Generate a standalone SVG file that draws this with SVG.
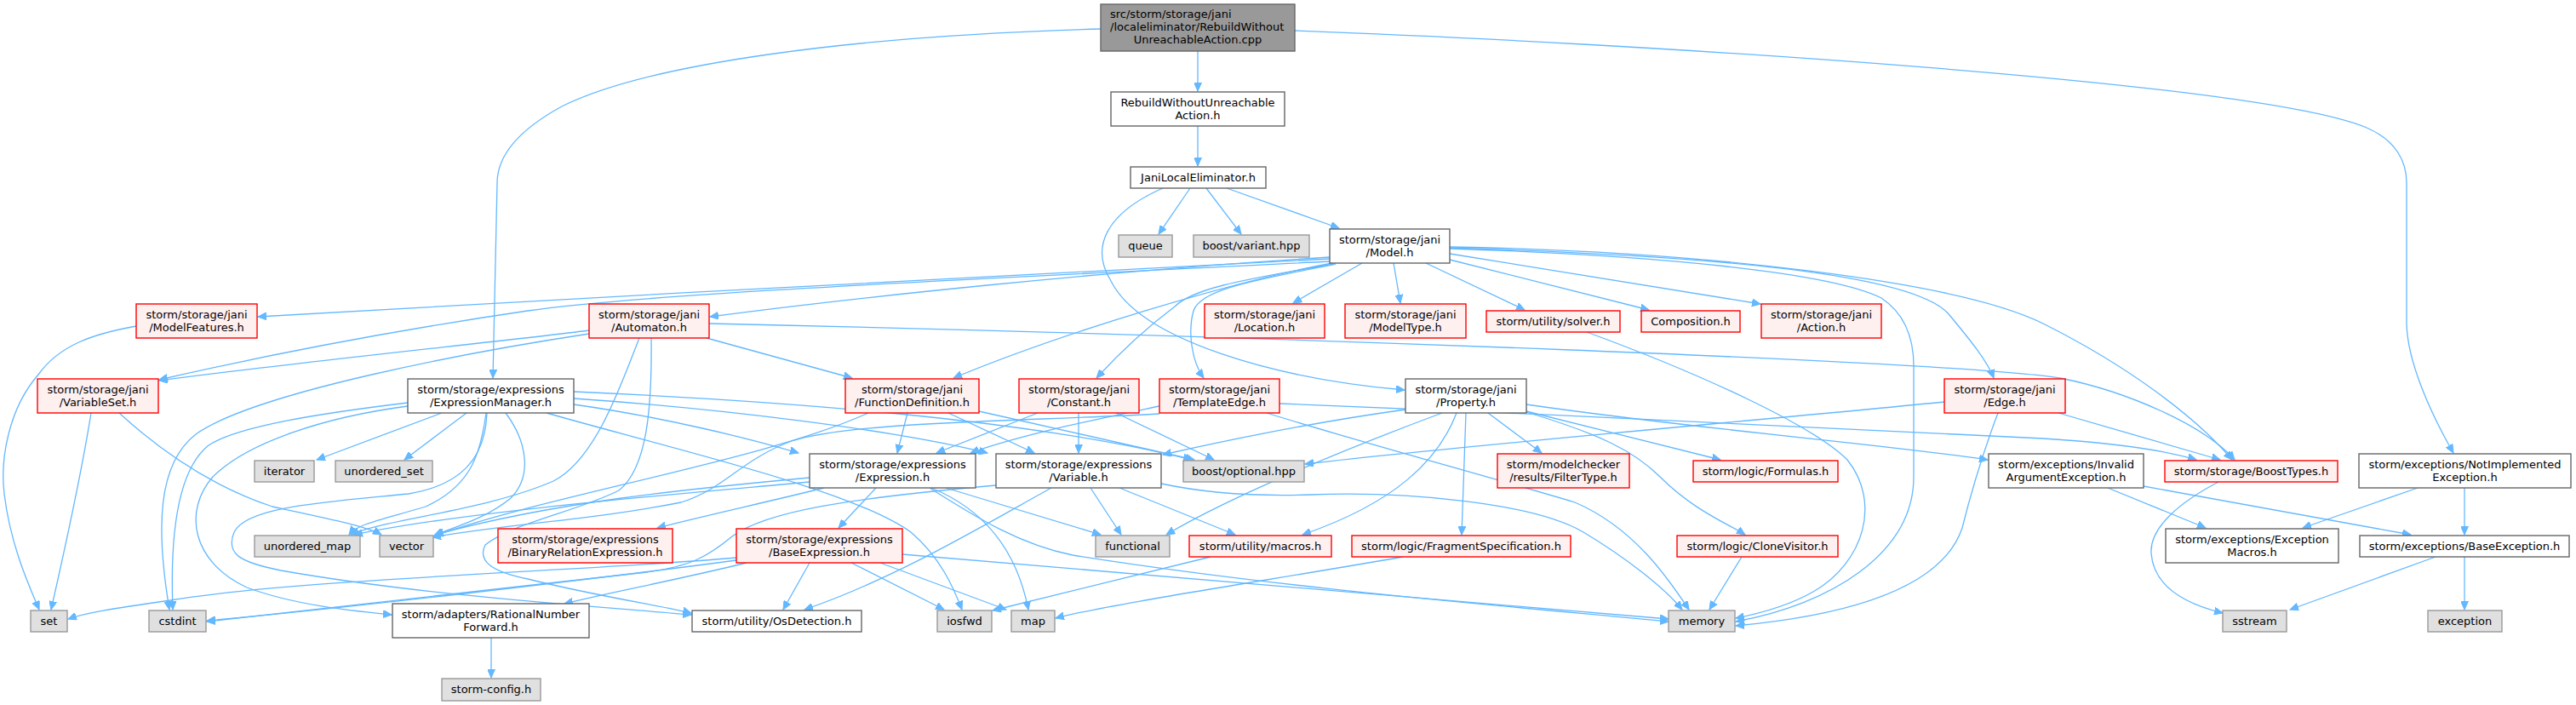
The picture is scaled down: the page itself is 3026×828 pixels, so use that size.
<svg xmlns="http://www.w3.org/2000/svg" width="3026" height="828" viewBox="0 0 3026 828">
<style>
.e{fill:none;stroke:#63b8ff;stroke-width:1.3;marker-end:url(#a)}
.w{fill:#ffffff;stroke:#666666;stroke-width:1.4}
.r{fill:#fff0f0;stroke:#ff0000;stroke-width:1.4}
.g{fill:#e0e0e0;stroke:#999999;stroke-width:1.4}
.t{fill:#999999;stroke:#666666;stroke-width:1.4}
text{font-family:"DejaVu Sans",sans-serif;font-size:13px;text-anchor:middle;fill:#000}
</style>
<defs>
<marker id="a" markerUnits="userSpaceOnUse" markerWidth="11" markerHeight="9" refX="10" refY="4.5" orient="auto">
<path d="M0,0 L10,4.5 L0,9 z" fill="#63b8ff" stroke="#63b8ff" stroke-width="1"/>
</marker>
</defs>
<rect width="3026" height="828" fill="#ffffff"/>
<g id="edges">
<path class="e" d="M1407,60 L1407,107"/>
<path class="e" d="M1293,34 C1000,42 760,75 660,125 C605,155 584,185 584,215 L579,444"/>
<path class="e" d="M1521,36 C1900,50 2650,95 2780,150 C2815,165 2827,190 2827,215 L2827,380 C2828,425 2855,485 2882,532"/>
<path class="e" d="M1407,148 L1407,195"/>
<path class="e" d="M1398,221 L1361,275"/>
<path class="e" d="M1417,221 L1458,275"/>
<path class="e" d="M1441,221 L1573,268"/>
<path class="e" d="M1366,221 C1300,250 1280,290 1305,330 C1340,400 1500,445 1650,458"/>
<path class="e" d="M1562,304 C1300,318 700,348 303,372"/>
<path class="e" d="M1562,307 C1100,330 760,345 620,365 C450,390 300,420 187,446"/>
<path class="e" d="M1562,302 C1300,318 1000,350 834,372"/>
<path class="e" d="M1565,309 C1450,330 1250,390 1120,444"/>
<path class="e" d="M1567,310 C1450,330 1400,340 1380,360 C1340,390 1310,420 1288,444"/>
<path class="e" d="M1569,310 C1470,330 1410,340 1402,365 C1395,390 1400,425 1414,444"/>
<path class="e" d="M1600,309 L1519,356"/>
<path class="e" d="M1637,309 L1645,356"/>
<path class="e" d="M1675,309 L1791,364"/>
<path class="e" d="M1703,305 L1937,364"/>
<path class="e" d="M1703,298 L2068,357"/>
<path class="e" d="M1703,291 C2000,300 2250,320 2290,370 C2315,400 2335,425 2342,444"/>
<path class="e" d="M1703,290 C2000,295 2300,330 2400,380 C2500,430 2580,490 2622,540"/>
<path class="e" d="M1703,292 C1950,300 2150,320 2210,350 C2240,370 2248,400 2248,430 L2248,560 C2248,650 2150,710 2039,730"/>
<path class="e" d="M833,380 C1500,395 2300,425 2420,444 C2500,460 2590,500 2625,540"/>
<path class="e" d="M692,388 C600,400 350,425 187,447"/>
<path class="e" d="M692,392 C560,412 300,460 230,510 C185,545 183,620 199,716"/>
<path class="e" d="M751,397 C730,450 700,540 650,565 C570,600 450,610 412,628"/>
<path class="e" d="M765,397 C766,480 760,550 727,576 C680,600 600,615 570,640 C560,660 580,672 620,680 C700,700 780,712 812,720"/>
<path class="e" d="M830,397 L1001,444"/>
<path class="e" d="M519,485 L372,540"/>
<path class="e" d="M548,485 L475,540"/>
<path class="e" d="M571,485 C565,530 555,570 500,595 C450,610 420,615 410,628"/>
<path class="e" d="M594,485 C620,520 625,560 600,585 C570,610 530,620 510,629"/>
<path class="e" d="M479,473 C380,485 280,500 245,523 C205,555 200,640 203,716"/>
<path class="e" d="M479,477 C380,490 290,520 250,560 C215,600 225,660 290,690 C350,712 420,718 460,722"/>
<path class="e" d="M572,485 C570,540 540,570 480,580 C380,590 290,595 275,625 C265,650 280,660 330,670 C500,700 700,712 812,722"/>
<path class="e" d="M674,475 C780,490 880,515 938,532"/>
<path class="e" d="M674,468 C850,480 1050,505 1160,532"/>
<path class="e" d="M674,460 C900,470 1200,490 1400,540"/>
<path class="e" d="M642,485 C800,530 1000,575 1070,625 C1105,655 1120,690 1130,716"/>
<path class="e" d="M107,485 C95,560 75,650 60,716"/>
<path class="e" d="M140,485 C200,540 260,575 320,595 C390,610 430,618 448,628"/>
<path class="e" d="M160,383 C110,392 70,405 45,440 C10,480 0,540 5,580 C12,640 35,690 46,716"/>
<path class="e" d="M1066,485 L1054,532"/>
<path class="e" d="M1114,485 L1215,532"/>
<path class="e" d="M1150,483 L1403,540"/>
<path class="e" d="M1020,485 C900,540 650,580 511,629"/>
<path class="e" d="M1219,485 L1100,532"/>
<path class="e" d="M1267,485 L1267,532"/>
<path class="e" d="M1311,485 L1426,540"/>
<path class="e" d="M1362,477 C1300,490 1200,510 1140,532"/>
<path class="e" d="M1362,486 C1200,495 1000,495 930,518 C870,540 850,575 800,590 C700,610 600,615 508,631"/>
<path class="e" d="M1503,474 C1800,485 2200,505 2400,515 C2480,520 2540,528 2580,540"/>
<path class="e" d="M1488,485 C1600,520 1750,560 1850,590 C1920,620 1960,680 1984,716"/>
<path class="e" d="M1651,481 C1550,495 1450,515 1366,534"/>
<path class="e" d="M1694,485 C1600,520 1450,580 1370,628"/>
<path class="e" d="M1711,485 C1690,540 1640,590 1530,628"/>
<path class="e" d="M1722,485 L1717,628"/>
<path class="e" d="M1748,485 L1811,532"/>
<path class="e" d="M1793,483 L2021,540"/>
<path class="e" d="M1793,484 C1880,510 1920,530 1950,560 C1990,600 2030,615 2050,628"/>
<path class="e" d="M1793,475 C2000,505 2200,520 2335,540"/>
<path class="e" d="M2284,472 C2000,500 1700,525 1533,545"/>
<path class="e" d="M2418,485 L2608,540"/>
<path class="e" d="M2347,485 C2330,530 2315,580 2305,620 C2285,680 2200,720 2039,735"/>
<path class="e" d="M2476,573 L2591,620"/>
<path class="e" d="M2518,571 L2832,628"/>
<path class="e" d="M2606,566 C2560,590 2525,620 2527,650 C2530,690 2570,710 2611,720"/>
<path class="e" d="M2840,573 L2705,620"/>
<path class="e" d="M2895,573 L2895,628"/>
<path class="e" d="M2861,654 L2690,716"/>
<path class="e" d="M2895,654 L2895,716"/>
<path class="e" d="M2046,654 L2008,716"/>
<path class="e" d="M1648,654 C1500,680 1300,710 1240,726"/>
<path class="e" d="M1864,390 C2000,440 2130,500 2170,540 C2210,590 2190,660 2130,695 C2100,712 2070,720 2039,726"/>
<path class="e" d="M1422,654 L1166,717"/>
<path class="e" d="M1235,573 C1150,620 1050,680 945,716"/>
<path class="e" d="M1281,573 L1317,628"/>
<path class="e" d="M1315,573 L1451,628"/>
<path class="e" d="M1364,568 C1420,580 1480,583 1540,581 C1650,577 1800,590 1860,625 C1910,655 1955,690 1976,716"/>
<path class="e" d="M1170,570 C1000,585 900,600 860,630 C830,655 810,665 760,672 C500,700 300,725 243,730"/>
<path class="e" d="M1029,573 L985,620"/>
<path class="e" d="M968,573 C900,590 830,605 772,620"/>
<path class="e" d="M1111,573 L1293,628"/>
<path class="e" d="M1094,573 C1160,600 1195,650 1208,716"/>
<path class="e" d="M1092,573 C1150,610 1200,640 1260,652 C1500,690 1750,710 1960,730"/>
<path class="e" d="M951,561 C800,575 650,590 511,628"/>
<path class="e" d="M951,566 C800,580 550,600 416,628"/>
<path class="e" d="M951,661 L920,716"/>
<path class="e" d="M1000,661 L1109,716"/>
<path class="e" d="M1034,661 L1182,716"/>
<path class="e" d="M1060,651 C1400,680 1700,705 1960,727"/>
<path class="e" d="M865,655 C700,670 350,680 200,705 C130,715 100,720 80,727"/>
<path class="e" d="M865,658 C700,680 400,715 243,729"/>
<path class="e" d="M877,661 C800,680 720,695 663,709"/>
<path class="e" d="M577,749 L577,796"/>
</g>
<g id="n0"><rect class="t" x="1293" y="5" width="228" height="55"/><text x="1304" y="21" style="text-anchor:start">src/storm/storage/jani</text><text x="1304" y="36" style="text-anchor:start">/localeliminator/RebuildWithout</text><text x="1407" y="51">UnreachableAction.cpp</text></g>
<g id="n1"><rect class="w" x="1305" y="108" width="204" height="40"/><text x="1407" y="124.5">RebuildWithoutUnreachable</text><text x="1407" y="139.5">Action.h</text></g>
<g id="n2"><rect class="w" x="1328" y="196" width="159" height="25"/><text x="1407.5" y="212.5">JaniLocalEliminator.h</text></g>
<g id="n3"><rect class="g" x="1314" y="276" width="63" height="26"/><text x="1345.5" y="293">queue</text></g>
<g id="n4"><rect class="g" x="1402" y="276" width="136" height="26"/><text x="1470" y="293">boost/variant.hpp</text></g>
<g id="n5"><rect class="w" x="1562" y="269" width="141" height="40"/><text x="1632.5" y="285.5">storm/storage/jani</text><text x="1632.5" y="300.5">/Model.h</text></g>
<g id="n6"><rect class="r" x="160" y="357" width="142" height="40"/><text x="231" y="373.5">storm/storage/jani</text><text x="231" y="388.5">/ModelFeatures.h</text></g>
<g id="n7"><rect class="r" x="692" y="357" width="141" height="40"/><text x="762.5" y="373.5">storm/storage/jani</text><text x="762.5" y="388.5">/Automaton.h</text></g>
<g id="n8"><rect class="r" x="1415" y="357" width="141" height="40"/><text x="1485.5" y="373.5">storm/storage/jani</text><text x="1485.5" y="388.5">/Location.h</text></g>
<g id="n9"><rect class="r" x="1580" y="357" width="142" height="40"/><text x="1651" y="373.5">storm/storage/jani</text><text x="1651" y="388.5">/ModelType.h</text></g>
<g id="n10"><rect class="r" x="1746" y="365" width="157" height="25"/><text x="1824.5" y="381.5">storm/utility/solver.h</text></g>
<g id="n11"><rect class="r" x="1928" y="365" width="116" height="25"/><text x="1986" y="381.5">Composition.h</text></g>
<g id="n12"><rect class="r" x="2069" y="357" width="141" height="40"/><text x="2139.5" y="373.5">storm/storage/jani</text><text x="2139.5" y="388.5">/Action.h</text></g>
<g id="n13"><rect class="r" x="2284" y="445" width="142" height="40"/><text x="2355" y="461.5">storm/storage/jani</text><text x="2355" y="476.5">/Edge.h</text></g>
<g id="n14"><rect class="r" x="44" y="445" width="142" height="40"/><text x="115" y="461.5">storm/storage/jani</text><text x="115" y="476.5">/VariableSet.h</text></g>
<g id="n15"><rect class="w" x="479" y="445" width="195" height="40"/><text x="576.5" y="461.5">storm/storage/expressions</text><text x="576.5" y="476.5">/ExpressionManager.h</text></g>
<g id="n16"><rect class="r" x="993" y="445" width="157" height="40"/><text x="1071.5" y="461.5">storm/storage/jani</text><text x="1071.5" y="476.5">/FunctionDefinition.h</text></g>
<g id="n17"><rect class="r" x="1197" y="445" width="141" height="40"/><text x="1267.5" y="461.5">storm/storage/jani</text><text x="1267.5" y="476.5">/Constant.h</text></g>
<g id="n18"><rect class="r" x="1362" y="445" width="141" height="40"/><text x="1432.5" y="461.5">storm/storage/jani</text><text x="1432.5" y="476.5">/TemplateEdge.h</text></g>
<g id="n19"><rect class="w" x="1651" y="445" width="142" height="40"/><text x="1722" y="461.5">storm/storage/jani</text><text x="1722" y="476.5">/Property.h</text></g>
<g id="n20"><rect class="g" x="299" y="541" width="70" height="25"/><text x="334" y="557.5">iterator</text></g>
<g id="n21"><rect class="g" x="394" y="541" width="114" height="25"/><text x="451" y="557.5">unordered_set</text></g>
<g id="n22"><rect class="w" x="951" y="533" width="195" height="40"/><text x="1048.5" y="549.5">storm/storage/expressions</text><text x="1048.5" y="564.5">/Expression.h</text></g>
<g id="n23"><rect class="w" x="1170" y="533" width="194" height="40"/><text x="1267" y="549.5">storm/storage/expressions</text><text x="1267" y="564.5">/Variable.h</text></g>
<g id="n24"><rect class="g" x="1390" y="541" width="142" height="25"/><text x="1461" y="557.5">boost/optional.hpp</text></g>
<g id="n25"><rect class="r" x="1759" y="533" width="155" height="40"/><text x="1836.5" y="549.5">storm/modelchecker</text><text x="1836.5" y="564.5">/results/FilterType.h</text></g>
<g id="n26"><rect class="r" x="1989" y="541" width="170" height="25"/><text x="2074" y="557.5">storm/logic/Formulas.h</text></g>
<g id="n27"><rect class="w" x="2336" y="533" width="182" height="40"/><text x="2427" y="549.5">storm/exceptions/Invalid</text><text x="2427" y="564.5">ArgumentException.h</text></g>
<g id="n28"><rect class="r" x="2543" y="541" width="203" height="25"/><text x="2644.5" y="557.5">storm/storage/BoostTypes.h</text></g>
<g id="n29"><rect class="w" x="2771" y="533" width="249" height="40"/><text x="2895.5" y="549.5">storm/exceptions/NotImplemented</text><text x="2895.5" y="564.5">Exception.h</text></g>
<g id="n30"><rect class="g" x="299" y="629" width="124" height="25"/><text x="361" y="645.5">unordered_map</text></g>
<g id="n31"><rect class="g" x="446" y="629" width="63" height="25"/><text x="477.5" y="645.5">vector</text></g>
<g id="n32"><rect class="r" x="585" y="621" width="205" height="40"/><text x="687.5" y="637.5">storm/storage/expressions</text><text x="687.5" y="652.5">/BinaryRelationExpression.h</text></g>
<g id="n33"><rect class="r" x="865" y="621" width="195" height="40"/><text x="962.5" y="637.5">storm/storage/expressions</text><text x="962.5" y="652.5">/BaseExpression.h</text></g>
<g id="n34"><rect class="g" x="1287" y="629" width="87" height="25"/><text x="1330.5" y="645.5">functional</text></g>
<g id="n35"><rect class="r" x="1397" y="629" width="167" height="25"/><text x="1480.5" y="645.5">storm/utility/macros.h</text></g>
<g id="n36"><rect class="r" x="1588" y="629" width="257" height="25"/><text x="1716.5" y="645.5">storm/logic/FragmentSpecification.h</text></g>
<g id="n37"><rect class="r" x="1970" y="629" width="189" height="25"/><text x="2064.5" y="645.5">storm/logic/CloneVisitor.h</text></g>
<g id="n38"><rect class="w" x="2544" y="621" width="203" height="40"/><text x="2645.5" y="637.5">storm/exceptions/Exception</text><text x="2645.5" y="652.5">Macros.h</text></g>
<g id="n39"><rect class="w" x="2772" y="629" width="246" height="25"/><text x="2895" y="645.5">storm/exceptions/BaseException.h</text></g>
<g id="n40"><rect class="g" x="36" y="717" width="43" height="25"/><text x="57.5" y="733.5">set</text></g>
<g id="n41"><rect class="g" x="175" y="717" width="67" height="25"/><text x="208.5" y="733.5">cstdint</text></g>
<g id="n42"><rect class="w" x="461" y="709" width="231" height="40"/><text x="576.5" y="725.5">storm/adapters/RationalNumber</text><text x="576.5" y="740.5">Forward.h</text></g>
<g id="n43"><rect class="w" x="813" y="717" width="199" height="25"/><text x="912.5" y="733.5">storm/utility/OsDetection.h</text></g>
<g id="n44"><rect class="g" x="1101" y="717" width="64" height="25"/><text x="1133" y="733.5">iosfwd</text></g>
<g id="n45"><rect class="g" x="1188" y="717" width="51" height="25"/><text x="1213.5" y="733.5">map</text></g>
<g id="n46"><rect class="g" x="1960" y="717" width="78" height="25"/><text x="1999" y="733.5">memory</text></g>
<g id="n47"><rect class="g" x="2611" y="717" width="75" height="25"/><text x="2648.5" y="733.5">sstream</text></g>
<g id="n48"><rect class="g" x="2852" y="717" width="87" height="25"/><text x="2895.5" y="733.5">exception</text></g>
<g id="n49"><rect class="g" x="519" y="797" width="116" height="26"/><text x="577" y="814">storm-config.h</text></g>
</svg>
